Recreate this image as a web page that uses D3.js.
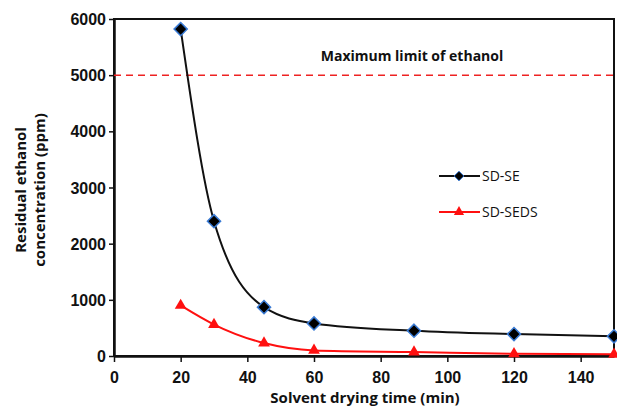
<!DOCTYPE html>
<html>
<head>
<meta charset="utf-8">
<script src="https://cdn.jsdelivr.net/npm/d3@7"></script>
<style>
  body { margin: 0; background: #fff; }
  svg { display: block; font-family: "Open Sans", "Noto Sans", sans-serif; }
  .tick text { font-size: 16px; font-weight: bold; fill: #111; }
</style>
</head>
<body>
<script>
'use strict';

let WIDTH = 617;
let HEIGHT = 409;

// data
let times = [20, 30, 45, 60, 90, 120, 150];
let sdSE = [5820, 2400, 870, 580, 450, 390, 350];
let sdSEDS = [900, 560, 230, 100, 70, 40, 30];
let xTicks = [0, 20, 40, 60, 80, 100, 120, 140];
let yTicks = [0, 1000, 2000, 3000, 4000, 5000, 6000];
let limitValue = 5000;

let margin = {left: 114, top: 19, right: 3, bottom: 53};

let x = d3.scaleLinear().domain([0, 150]).range([margin.left, WIDTH - margin.right]);
let y = d3.scaleLinear().domain([0, 6000]).range([HEIGHT - margin.bottom, margin.top]);

let svg = d3.select('body').append('svg')
    .attr('width', WIDTH)
    .attr('height', HEIGHT);

// frame
svg.append('rect')
    .attr('x', x(0)).attr('y', y(6000))
    .attr('width', x(150) - x(0)).attr('height', y(0) - y(6000))
    .attr('fill', 'none').attr('stroke', '#111').attr('stroke-width', 2);

// axes
let xAxis = svg.append('g')
    .attr('transform', 'translate(0,' + y(0) + ')')
    .call(d3.axisBottom(x).tickValues(xTicks).tickSize(6).tickSizeOuter(0));
let yAxis = svg.append('g')
    .attr('transform', 'translate(' + x(0) + ',0)')
    .call(d3.axisLeft(y).tickValues(yTicks).tickFormat(d3.format('d')).tickSize(5).tickSizeOuter(0));
[xAxis, yAxis].forEach(function(g) {
    g.select('.domain').attr('stroke', '#111').attr('stroke-width', 2.5);
    g.selectAll('.tick line').attr('stroke', '#111').attr('stroke-width', 1.5);
});
xAxis.selectAll('.tick text').attr('dy', '1.1em');
yAxis.selectAll('.tick text').attr('x', -8).attr('dy', '0.35em');

// limit line
svg.append('line')
    .attr('x1', x(0)).attr('x2', x(150))
    .attr('y1', y(limitValue)).attr('y2', y(limitValue))
    .attr('stroke', '#ee2222').attr('stroke-width', 1.5)
    .attr('stroke-dasharray', '7,5');
svg.append('text')
    .attr('x', 412).attr('y', 61)
    .attr('text-anchor', 'middle')
    .attr('font-size', 14).attr('font-weight', 'bold').attr('fill', '#111')
    .text('Maximum limit of ethanol');

let line = d3.line()
    .curve(d3.curveMonotoneX)
    .x(function(d) { return x(d[0]); })
    .y(function(d) { return y(d[1]); });

let seriesA = times.map(function(t, i) { return [t, sdSE[i]]; });
let seriesB = times.map(function(t, i) { return [t, sdSEDS[i]]; });

svg.append('path').attr('d', line(seriesA))
    .attr('fill', 'none').attr('stroke', '#111').attr('stroke-width', 2);
svg.append('path').attr('d', line(seriesB))
    .attr('fill', 'none').attr('stroke', '#ff1010').attr('stroke-width', 2);

let diamond = d3.symbol().type(d3.symbolDiamond2).size(110);
let triangle = d3.symbol().type(d3.symbolTriangle).size(60);

svg.selectAll('.mA').data(seriesA).enter().append('path')
    .attr('class', 'mA')
    .attr('d', diamond)
    .attr('transform', function(d) { return 'translate(' + x(d[0]) + ',' + y(d[1]) + ')'; })
    .attr('fill', '#000').attr('stroke', '#3a7bd5').attr('stroke-width', 1.5);

svg.selectAll('.mB').data(seriesB).enter().append('path')
    .attr('class', 'mB')
    .attr('d', triangle)
    .attr('transform', function(d) { return 'translate(' + x(d[0]) + ',' + y(d[1]) + ')'; })
    .attr('fill', '#ff1010');

// legend
let legend = [
    {name: 'SD-SE', color: '#111', type: d3.symbolDiamond2, size: 60, fill: '#000', stroke: '#3a7bd5', y: 176},
    {name: 'SD-SEDS', color: '#ff1010', type: d3.symbolTriangle, size: 45, fill: '#ff1010', stroke: 'none', y: 212}
];
legend.forEach(function(l) {
    svg.append('line')
        .attr('x1', 439).attr('x2', 480).attr('y1', l.y).attr('y2', l.y)
        .attr('stroke', l.color).attr('stroke-width', 2);
    svg.append('path')
        .attr('d', d3.symbol().type(l.type).size(l.size))
        .attr('transform', 'translate(459,' + l.y + ')')
        .attr('fill', l.fill).attr('stroke', l.stroke).attr('stroke-width', 1);
    svg.append('text')
        .attr('x', 482).attr('y', l.y + 5)
        .attr('font-size', 14).attr('fill', '#111')
        .text(l.name);
});

// axis titles
svg.append('text')
    .attr('x', 365).attr('y', 403)
    .attr('text-anchor', 'middle')
    .attr('font-size', 15).attr('font-weight', 'bold').attr('fill', '#111')
    .text('Solvent drying time (min)');

let yTitle = svg.append('text')
    .attr('transform', 'translate(26,190) rotate(-90)')
    .attr('text-anchor', 'middle')
    .attr('font-size', 15).attr('font-weight', 'bold').attr('fill', '#111');
yTitle.append('tspan').attr('x', 0).attr('dy', 0).text('Residual ethanol');
yTitle.append('tspan').attr('x', 0).attr('dy', '1.25em').text('concentration (ppm)');
</script>
</body>
</html>
